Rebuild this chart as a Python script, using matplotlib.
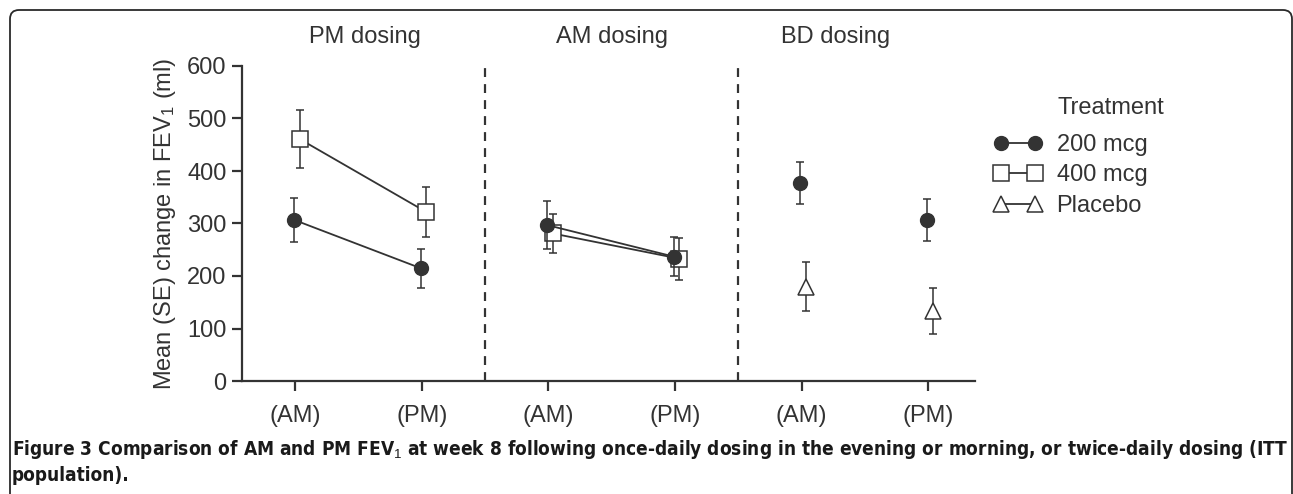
import matplotlib
matplotlib.use("Agg")
import matplotlib.pyplot as plt
from matplotlib import font_manager as fm
from matplotlib.lines import Line2D
from matplotlib.path import Path
from matplotlib.patches import PathPatch
import numpy as np

# ---------------- data ----------------
tick_labels = ["(AM)", "(PM)", "(AM)", "(PM)", "(AM)", "(PM)"]
groups = ["PM dosing", "AM dosing", "BD dosing"]

# 200 mcg: PM dosing (AM, PM), AM dosing (AM, PM), BD dosing (AM, PM)
mcg200_mean = [307, 215, 297, 237, 378, 306]
mcg200_se = [42, 37, 46, 37, 40, 40]
# 400 mcg: PM dosing, AM dosing
mcg400_mean = [461, 322, 281, 233]
mcg400_se = [55, 48, 37, 40]
# Placebo: BD dosing
placebo_mean = [180, 134]
placebo_se = [47, 44]

y_ticks = [0, 100, 200, 300, 400, 500, 600]

# ---------------- style ----------------
W, H, DPI = 1293, 494, 100
DARK = "#333333"
TXT = "#333333"
FS = 17

families = {f.name for f in fm.fontManager.ttflist}
main_font = "Liberation Sans" if "Liberation Sans" in families else "DejaVu Sans"
if "Liberation Sans Narrow" in families:
    cap_font, cap_stretch = "Liberation Sans Narrow", "normal"
else:
    cap_font, cap_stretch = "DejaVu Sans", "condensed"
plt.rcParams["font.family"] = [main_font, "DejaVu Sans"]
plt.rcParams["mathtext.fontset"] = "custom"
plt.rcParams["mathtext.rm"] = main_font
plt.rcParams["mathtext.it"] = main_font
plt.rcParams["mathtext.bf"] = main_font + ":bold"

fig = plt.figure(figsize=(W / DPI, H / DPI), dpi=DPI)
ax = fig.add_axes([242 / W, 1 - 381 / H, (975 - 242) / W, (381 - 66) / H])

x = np.arange(len(tick_labels), dtype=float)
off_c, off_s = -0.01, 0.035

ekw = dict(ecolor=DARK, elinewidth=1.1, capsize=3, capthick=1.1)

# 400 mcg (drawn first so 200 mcg circles sit on top)
for seg in (slice(0, 2), slice(2, 4)):
    xs = x[seg] + off_s
    ax.errorbar(xs, mcg400_mean[seg], yerr=mcg400_se[seg], fmt="none", zorder=2, **ekw)
    ax.plot(xs, mcg400_mean[seg], color=DARK, lw=1.3, marker="s", ms=11,
            mfc="white", mec=DARK, mew=1.1, zorder=3)

# 200 mcg
for seg, line in ((slice(0, 2), True), (slice(2, 4), True), (slice(4, 6), False)):
    xs = x[seg] + off_c
    ax.errorbar(xs, mcg200_mean[seg], yerr=mcg200_se[seg], fmt="none", zorder=4, **ekw)
    ax.plot(xs, mcg200_mean[seg], color=DARK, lw=1.3 if line else 0, marker="o", ms=10,
            mfc=DARK, mec=DARK, zorder=5)

# Placebo
xs = x[4:6] + off_s
ax.errorbar(xs, placebo_mean, yerr=placebo_se, fmt="none", zorder=2, **ekw)
ax.plot(xs, placebo_mean, lw=0, marker="^", ms=12, mfc="white", mec=DARK, mew=1.1, zorder=3)

# dividers
for d in (1.5, 3.5):
    ax.axvline(d, color=DARK, lw=1.6, ls=(0, (4, 3.2)), zorder=1)

ax.set_xlim(-0.42, 5.37)
ax.set_ylim(0, 600)
ax.set_yticks(y_ticks)
ax.set_xticks(x)
ax.set_xticklabels(tick_labels)
for s in ("top", "right"):
    ax.spines[s].set_visible(False)
for s in ("left", "bottom"):
    ax.spines[s].set_color(DARK)
    ax.spines[s].set_linewidth(1.6)
ax.tick_params(direction="out", length=7, width=1.6, color=DARK, labelcolor=TXT,
               labelsize=FS, pad=4)
ax.tick_params(axis="x", pad=10)

ax.set_ylabel("Mean (SE) change in FEV$_1$ (ml)", fontsize=FS, color=TXT)
ax.yaxis.set_label_coords((178 - 242) / (975 - 242), 0.5)

# group titles
trans = matplotlib.transforms.blended_transform_factory(ax.transData, fig.transFigure)
for gx, g in zip((0.55, 2.5, 4.27), groups):
    ax.text(gx, 1 - 37 / H, g, transform=trans, ha="center", va="center",
            fontsize=FS, color=TXT)

# legend
handles = [
    Line2D([], [], color=DARK, lw=1.3, marker="o", ms=10, mfc=DARK, mec=DARK),
    Line2D([], [], color=DARK, lw=1.3, marker="s", ms=11, mfc="white", mec=DARK, mew=1.1),
    Line2D([], [], color=DARK, lw=1.3, marker="^", ms=12, mfc="white", mec=DARK, mew=1.1),
]
leg = fig.legend(handles, ["200 mcg", "400 mcg", "Placebo"], loc="upper left",
                 bbox_to_anchor=(994 / W, 1 - 134 / H), frameon=False, fontsize=FS,
                 numpoints=2, handlelength=2.03, handletextpad=0.62, labelspacing=0.36,
                 borderpad=0, borderaxespad=0)
for t in leg.get_texts():
    t.set_color(TXT)
fig.text(1057 / W, 1 - 108 / H, "Treatment", ha="left", va="center", fontsize=FS, color=TXT)

# caption
cap1 = ("Figure 3 Comparison of AM and PM FEV$_1$ at week 8 following once-daily dosing "
        "in the evening or morning, or twice-daily dosing (ITT")
t1 = fig.text(12 / W, 1 - 449 / H, cap1, ha="left", va="center", fontsize=12,
              fontweight="bold", family=[cap_font, "DejaVu Sans"], fontstretch=cap_stretch,
              color="#1a1a1a")
t2 = fig.text(12 / W, 1 - 475 / H, "population).", ha="left", va="center", fontsize=12,
              fontweight="bold", family=[cap_font, "DejaVu Sans"], fontstretch=cap_stretch,
              color="#1a1a1a")
fig.canvas.draw()
r = fig.canvas.get_renderer()
wpx = t1.get_window_extent(r).width
scale = (1285 - 12) / wpx
t1.set_fontsize(12 * scale)
t2.set_fontsize(12 * scale)

# frame border with rounded top corners
rad = 9
verts = [(10, H + 5), (10, 10 + rad), (10, 10), (10 + rad, 10), (1292 - rad, 10),
         (1292, 10), (1292, 10 + rad), (1292, H + 5)]
codes = [Path.MOVETO, Path.LINETO, Path.CURVE3, Path.CURVE3, Path.LINETO,
         Path.CURVE3, Path.CURVE3, Path.LINETO]
verts = [(vx / W, 1 - vy / H) for vx, vy in verts]
fig.add_artist(PathPatch(Path(verts, codes), transform=fig.transFigure, fill=False,
                         edgecolor="#2a2a2a", lw=1.3, clip_on=False))

fig.savefig("out.png", dpi=DPI)
